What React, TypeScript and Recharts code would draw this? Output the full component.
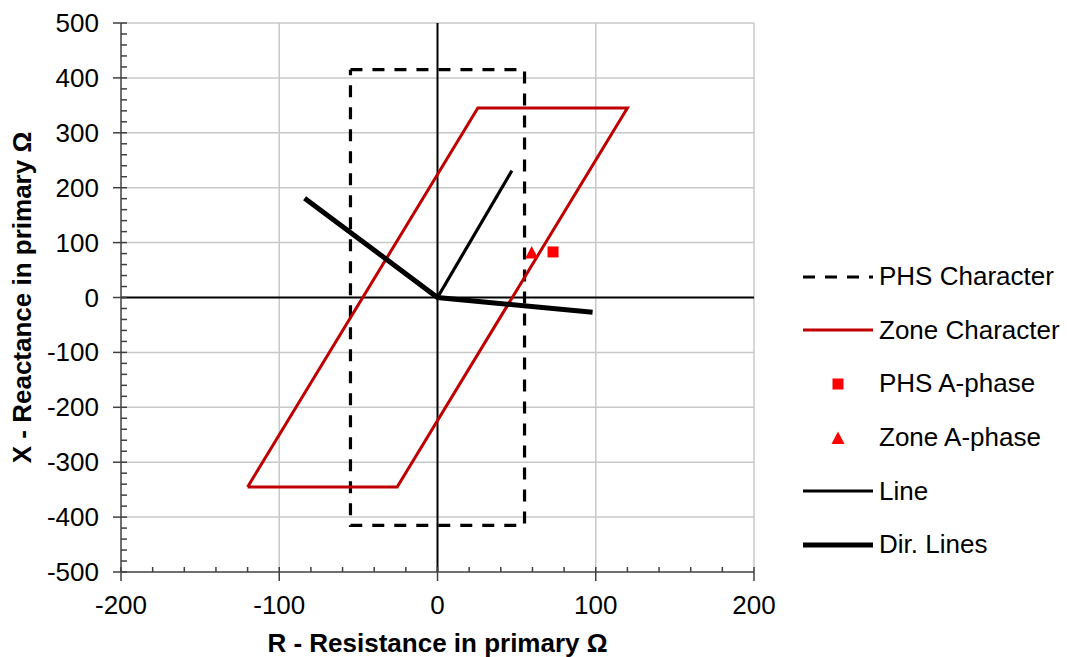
import React from 'react'
import { ComposedChart, Line, Scatter, XAxis, YAxis, ReferenceLine, Label } from 'recharts'

// impedance plane values
const phsCharacter = [
  { x: -55, y: 415 },
  { x: 55, y: 415 },
  { x: 55, y: -415 },
  { x: -55, y: -415 },
  { x: -55, y: 415 },
]
const zoneCharacter = [
  { x: -120, y: -345 },
  { x: -25.5, y: -345 },
  { x: 120, y: 345 },
  { x: 25.5, y: 345 },
  { x: -120, y: -345 },
]
const lineImpedance = [
  { x: 0, y: 0 },
  { x: 47, y: 231 },
]
const dirLines = [
  { x: -84, y: 181 },
  { x: 0, y: 0 },
  { x: 98, y: -27 },
]
const phsAPhase = [{ x: 73, y: 83 }]
const zoneAPhase = [{ x: 59.5, y: 82 }]

const xMajor = [-200, -100, 0, 100, 200]
const yMajor = [-500, -400, -300, -200, -100, 0, 100, 200, 300, 400, 500]
const xTicks = Array.from({ length: 21 }, (_, i) => -200 + i * 20)
const yTicks = Array.from({ length: 51 }, (_, i) => -500 + i * 20)
const xGrid = [-100, 100, 200]
const yGrid = [-400, -300, -200, -100, 100, 200, 300, 400, 500]

const font = '"Liberation Sans", Arial, sans-serif'
const axisColor = '#404040'
const gridColor = '#C8C8C8'
const zoneRed = '#C00000'
const markerRed = '#FF0000'

const XTick = (props: any) => {
  const { x, y, payload } = props
  const major = xMajor.includes(payload.value)
  return (
    <g>
      <line x1={x} x2={x} y1={y - 5} y2={major ? y + 9 : y} stroke={axisColor} strokeWidth={1.5} />
      {major && (
        <text x={x} y={y + 42} textAnchor="middle" fontSize={26} fontFamily={font} fill="#000">
          {payload.value}
        </text>
      )}
    </g>
  )
}

const YTick = (props: any) => {
  const { x, y, payload } = props
  const major = yMajor.includes(payload.value)
  return (
    <g>
      <line x1={major ? x - 8 : x} x2={x + 6} y1={y} y2={y} stroke={axisColor} strokeWidth={1.5} />
      {major && (
        <text x={x - 22} y={y + 9} textAnchor="end" fontSize={26} fontFamily={font} fill="#000">
          {payload.value}
        </text>
      )}
    </g>
  )
}

const legendItems = [
  { name: 'PHS Character', kind: 'dash' },
  { name: 'Zone Character', kind: 'red' },
  { name: 'PHS A-phase', kind: 'square' },
  { name: 'Zone A-phase', kind: 'triangle' },
  { name: 'Line', kind: 'line' },
  { name: 'Dir. Lines', kind: 'dir' },
]

const LegendIcon = ({ kind }: { kind: string }) => (
  <svg width={70} height={20}>
    {kind === 'dash' && <line x1={0} x2={70} y1={10} y2={10} stroke="#000" strokeWidth={3} strokeDasharray="12 10" />}
    {kind === 'red' && <line x1={0} x2={70} y1={10} y2={10} stroke={zoneRed} strokeWidth={3} />}
    {kind === 'square' && <rect x={29.5} y={4.5} width={11} height={11} fill={markerRed} />}
    {kind === 'triangle' && <polygon points="35,3.5 41.5,16 28.5,16" fill={markerRed} />}
    {kind === 'line' && <line x1={0} x2={70} y1={10} y2={10} stroke="#000" strokeWidth={3} />}
    {kind === 'dir' && <line x1={0} x2={70} y1={10} y2={10} stroke="#000" strokeWidth={5} />}
  </svg>
)

const App = () => {
  return (
    <div style={{ position: 'absolute', left: 0, top: 0, width: 1067, height: 657, background: '#fff' }}>
      <ComposedChart width={1067} height={657} margin={{ top: 23, right: 313, bottom: 0, left: 0 }}>
        <XAxis
          type="number"
          dataKey="x"
          domain={[-200, 200]}
          ticks={xTicks}
          interval={0}
          allowDataOverflow
          height={85}
          tickSize={0}
          tickMargin={0}
          tickLine={false}
          tick={XTick}
          axisLine={{ stroke: axisColor, strokeWidth: 1.5 }}
        >
          <Label
            value="R - Resistance in primary Ω"
            position="insideBottom"
            offset={5}
            style={{ fontSize: 26, fontWeight: 'bold', fill: '#000', fontFamily: font }}
          />
        </XAxis>
        <YAxis
          type="number"
          dataKey="y"
          domain={[-500, 500]}
          ticks={yTicks}
          interval={0}
          allowDataOverflow
          width={121}
          tickSize={0}
          tickMargin={0}
          tickLine={false}
          tick={YTick}
          axisLine={{ stroke: axisColor, strokeWidth: 1.5 }}
        >
          <Label
            value="X - Reactance in primary Ω"
            position="insideLeft"
            angle={-90}
            offset={22}
            style={{ fontSize: 26, fontWeight: 'bold', fill: '#000', fontFamily: font, textAnchor: 'middle' }}
          />
        </YAxis>
        {xGrid.map((v) => (
          <ReferenceLine key={'gx' + v} x={v} stroke={gridColor} strokeWidth={1.5} />
        ))}
        {yGrid.map((v) => (
          <ReferenceLine key={'gy' + v} y={v} stroke={gridColor} strokeWidth={1.5} />
        ))}
        <ReferenceLine x={0} stroke="#000" strokeWidth={2} />
        <ReferenceLine y={0} stroke="#000" strokeWidth={2} />
        <Line
          data={phsCharacter}
          dataKey="y"
          type="linear"
          stroke="#000"
          strokeWidth={3.2}
          strokeDasharray="12 10"
          dot={false}
          activeDot={false}
          isAnimationActive={false}
        />
        <Line
          data={zoneCharacter}
          dataKey="y"
          type="linear"
          stroke={zoneRed}
          strokeWidth={3}
          dot={false}
          activeDot={false}
          isAnimationActive={false}
        />
        <Line
          data={lineImpedance}
          dataKey="y"
          type="linear"
          stroke="#000"
          strokeWidth={3.2}
          dot={false}
          activeDot={false}
          isAnimationActive={false}
        />
        <Line
          data={dirLines}
          dataKey="y"
          type="linear"
          stroke="#000"
          strokeWidth={5}
          dot={false}
          activeDot={false}
          isAnimationActive={false}
        />
        <Scatter
          data={phsAPhase}
          dataKey="y"
          isAnimationActive={false}
          shape={(p: any) => <rect x={p.cx - 5.5} y={p.cy - 5.5} width={11} height={11} fill={markerRed} />}
        />
        <Scatter
          data={zoneAPhase}
          dataKey="y"
          isAnimationActive={false}
          shape={(p: any) => (
            <polygon
              points={`${p.cx},${p.cy - 6.5} ${p.cx + 6.5},${p.cy + 6} ${p.cx - 6.5},${p.cy + 6}`}
              fill={markerRed}
            />
          )}
        />
      </ComposedChart>
      <div style={{ position: 'absolute', left: 803, top: 250, fontFamily: font, fontSize: 26, color: '#000' }}>
        {legendItems.map((item) => (
          <div key={item.name} style={{ display: 'flex', alignItems: 'center', height: 53.6 }}>
            <LegendIcon kind={item.kind} />
            <span style={{ marginLeft: 6, whiteSpace: 'nowrap' }}>{item.name}</span>
          </div>
        ))}
      </div>
    </div>
  )
}

export default App
